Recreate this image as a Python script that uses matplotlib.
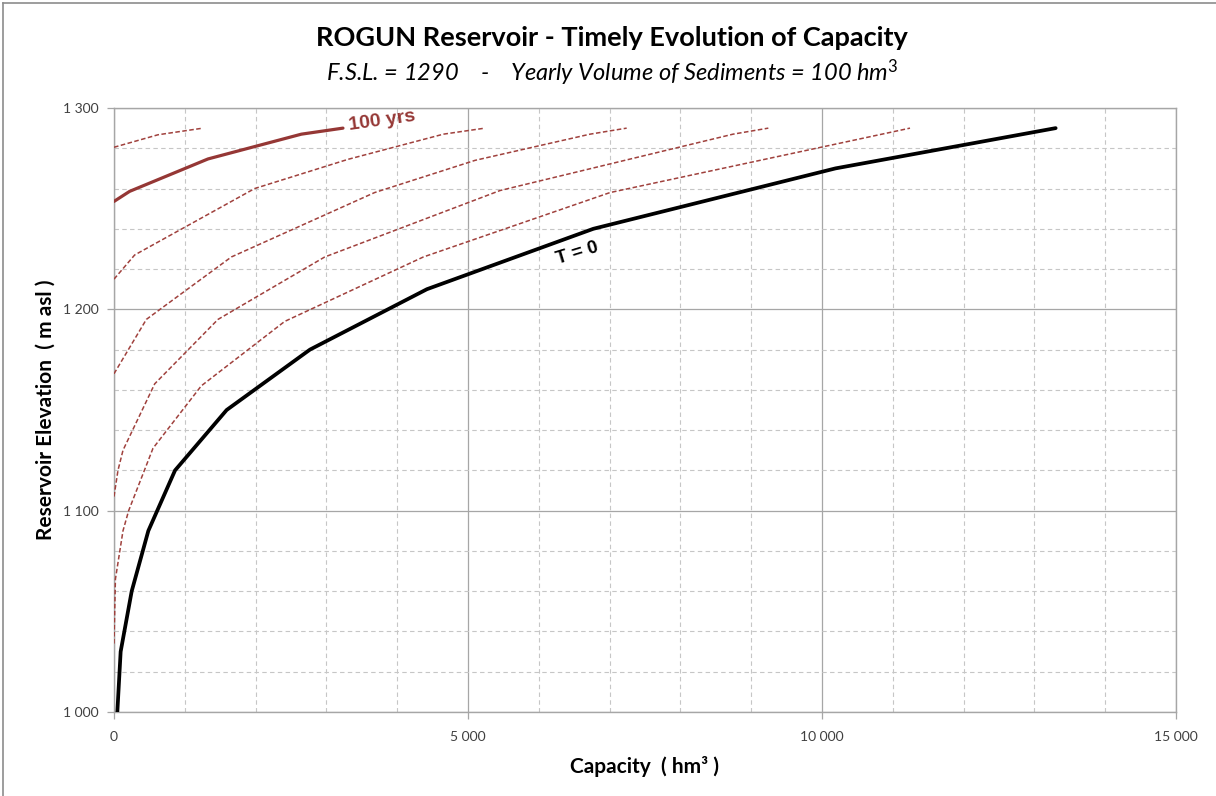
import matplotlib
matplotlib.use("Agg")
import matplotlib.pyplot as plt
from matplotlib.ticker import MultipleLocator, FuncFormatter
from matplotlib.lines import Line2D

# ---- data ----
cap_t0 = [47, 94, 250, 485, 862, 1591, 2768, 4420, 6770, 10190, 13300]
elev_t0 = [1000, 1030, 1060, 1090, 1120, 1150, 1180, 1210, 1240, 1270, 1290]

cap_20 = [0, 20, 127, 207, 551, 1233, 2411, 4369, 7006, 11243]
elev_20 = [1034, 1066, 1090, 1100, 1131, 1162, 1194, 1226, 1258, 1290]

cap_40 = [0, 56, 127, 575, 1469, 2976, 5452, 8743, 9242]
elev_40 = [1107, 1120, 1130, 1163, 1195, 1226, 1259, 1287, 1290]

cap_60 = [0, 457, 1657, 3681, 5100, 6723, 7241]
elev_60 = [1168, 1195, 1226, 1258, 1274, 1287, 1290]

cap_80 = [0, 292, 1987, 3305, 4652, 5240]
elev_80 = [1215, 1227, 1260, 1274.5, 1287, 1290]

cap_100 = [0, 221, 1328, 2646, 3234]
elev_100 = [1253.6, 1258.6, 1274.7, 1287, 1290]

cap_120 = [0, 621, 1257]
elev_120 = [1280.5, 1286.7, 1290]

title = "ROGUN Reservoir - Timely Evolution of Capacity"
subtitle = "F.S.L. = 1290    -    Yearly Volume of Sediments = 100 hm$^3$"
xlabel = "Capacity  ( hm³ )"
ylabel = "Reservoir Elevation  ( m asl )"

plt.rcParams['font.family'] = ['Lato', 'DejaVu Sans']
plt.rcParams['mathtext.fontset'] = 'custom'
plt.rcParams['mathtext.it'] = 'Lato:italic'
plt.rcParams['mathtext.rm'] = 'Lato'

W, H = 1216, 796
fig = plt.figure(figsize=(W / 100, H / 100), dpi=100)
ax = fig.add_axes([114 / W, 1 - 712 / H, (1176 - 114) / W, (712 - 108) / H])

red = '#A0413D'
dark_red = '#953735'

# dashed curves
for cx, ey in [(cap_20, elev_20), (cap_40, elev_40), (cap_60, elev_60),
               (cap_80, elev_80), (cap_120, elev_120)]:
    ax.plot(cx, ey, color=red, lw=1.1, dashes=(3.0, 1.6), zorder=3)

ax.plot(cap_100, elev_100, color=dark_red, lw=2.3, zorder=4,
        solid_capstyle='round')
ax.plot(cap_t0, elev_t0, color='black', lw=2.7, zorder=5,
        solid_capstyle='round')

# labels on curves
ax.text(3780, 1293.5, "100 yrs", color=dark_red, fontsize=14, fontweight='bold',
        family=['Liberation Sans', 'DejaVu Sans'], rotation=8, ha='center', va='center', zorder=6)
ax.text(6540, 1228, "T = 0", color='black', fontsize=13.5, fontweight='bold',
        family=['Liberation Sans', 'DejaVu Sans'], rotation=17, ha='center', va='center', zorder=6)

ax.set_xlim(0, 15000)
ax.set_ylim(1000, 1300)
ax.xaxis.set_major_locator(MultipleLocator(5000))
ax.xaxis.set_minor_locator(MultipleLocator(1000))
ax.yaxis.set_major_locator(MultipleLocator(100))
ax.yaxis.set_minor_locator(MultipleLocator(20))

fmt = FuncFormatter(lambda v, p: f"{int(round(v)):,}".replace(",", " "))
ax.xaxis.set_major_formatter(fmt)
ax.yaxis.set_major_formatter(fmt)

ax.grid(which='major', color='#A6A6A6', lw=0.9, ls='-', zorder=1)
ax.grid(which='minor', color='#C6C6C6', lw=0.8, ls=(0, (4, 3)), zorder=1)
ax.set_axisbelow(True)
for s in ax.spines.values():
    s.set_color('#A6A6A6')
    s.set_linewidth(1.0)

ax.tick_params(which='major', length=5, width=0.9, color='#A6A6A6',
               labelsize=10, labelcolor='#404040', direction='out')
ax.tick_params(which='minor', length=0)
ax.tick_params(axis='x', pad=9)
ax.tick_params(axis='y', pad=6)

ax.set_xlabel(xlabel, fontsize=15, fontweight='bold', color='black', labelpad=9)
ax.set_ylabel(ylabel, fontsize=15, fontweight='bold', color='black', labelpad=5)

fig.text(612 / W, 1 - 38 / H, title, ha='center', va='center',
         fontsize=19.5, fontweight='bold', color='black')
fig.text(612 / W, 1 - 73 / H, subtitle, ha='center', va='center',
         fontsize=17, style='italic', color='black')

# outer chart frame (left and top edges visible)
fig.add_artist(Line2D([3 / W, 3 / W], [0, 1 - 3 / H], transform=fig.transFigure,
                      color='#8C8C8C', lw=1.2))
fig.add_artist(Line2D([3 / W, 1], [1 - 3 / H, 1 - 3 / H], transform=fig.transFigure,
                      color='#8C8C8C', lw=1.2))

fig.savefig("out.png", dpi=100)
